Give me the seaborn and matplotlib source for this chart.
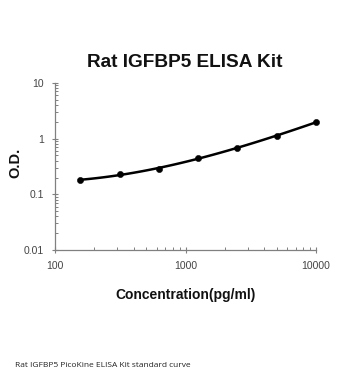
import matplotlib
matplotlib.use("Agg")
import matplotlib.pyplot as plt
import matplotlib.ticker as mticker
import seaborn as sns
import numpy as np
import pandas as pd

concentration = [156.25, 312.5, 625, 1250, 2500, 5000, 10000]
od = [0.181, 0.229, 0.282, 0.45, 0.689, 1.117, 1.97]
x_ticks = [100, 1000, 10000]
x_tick_labels = ["100", "1000", "10000"]
y_ticks = [0.01, 0.1, 1, 10]
y_tick_labels = ["0.01", "0.1", "1", "10"]

df = pd.DataFrame({"conc": concentration, "od": od})
df["log_conc"] = np.log10(df["conc"])
df["log_od"] = np.log10(df["od"])

sns.set_theme(style="white")
plt.rcParams["font.family"] = ["Liberation Sans", "DejaVu Sans"]

fig = plt.figure(figsize=(3.5, 3.8), dpi=100)
rect = [0.157, 0.342, 0.746, 0.440]
ax = fig.add_axes(rect)

# smooth fitted standard curve (polynomial fit in log-log space)
ax_fit = fig.add_axes(rect)
ax_fit.patch.set_alpha(0)
sns.regplot(data=df, x="log_conc", y="log_od", ax=ax_fit, order=3, ci=None,
            scatter=False, line_kws={"color": "black", "linewidth": 1.8,
                                     "clip_on": False})
ax_fit.set_xlim(2, 4)
ax_fit.set_ylim(-2, 1)
ax_fit.axis("off")

sns.scatterplot(data=df, x="conc", y="od", ax=ax, color="black", s=20,
                edgecolor="black", zorder=3, clip_on=False)

ax.set_xscale("log")
ax.set_yscale("log")
ax.set_xlim(100, 10000)
ax.set_ylim(0.01, 10)

ax.set_xticks(x_ticks)
ax.set_xticklabels(x_tick_labels)
ax.set_yticks(y_ticks)
ax.set_yticklabels(y_tick_labels)
ax.xaxis.set_minor_locator(mticker.LogLocator(base=10, subs=range(2, 10)))
ax.yaxis.set_minor_locator(mticker.LogLocator(base=10, subs=range(2, 10)))
ax.xaxis.set_minor_formatter(mticker.NullFormatter())
ax.yaxis.set_minor_formatter(mticker.NullFormatter())

ax.tick_params(axis="both", which="major", direction="inout", length=4,
               width=0.8, color="#808080", labelsize=7.5, labelcolor="#444444",
               bottom=True, left=True)
ax.tick_params(axis="both", which="minor", direction="in", length=2.5,
               width=0.7, color="#808080", bottom=True, left=True)
ax.tick_params(axis="x", which="major", pad=6)
ax.tick_params(axis="y", which="major", pad=6)

for side in ["top", "right"]:
    ax.spines[side].set_visible(False)
for side in ["left", "bottom"]:
    ax.spines[side].set_color("#808080")
    ax.spines[side].set_linewidth(0.9)

ax.set_xlabel("Concentration(pg/ml)", fontsize=10, fontweight="bold",
              color="#111111")
ax.set_ylabel("O.D.", fontsize=10.5, fontweight="bold", color="#111111")
ax.xaxis.set_label_coords(0.5, -0.23)
ax.yaxis.set_label_coords(-0.123, 0.52)

fig.text(0.527, 0.836, "Rat IGFBP5 ELISA Kit", ha="center", va="center",
         fontsize=13.7, fontweight="bold", color="#111111")
fig.text(0.043, 0.039, "Rat IGFBP5 PicoKine ELISA Kit standard curve",
         ha="left", va="center", fontsize=6, color="#222222",
         family=["Open Sans", "DejaVu Sans"])

fig.savefig("out.png", dpi=100)
